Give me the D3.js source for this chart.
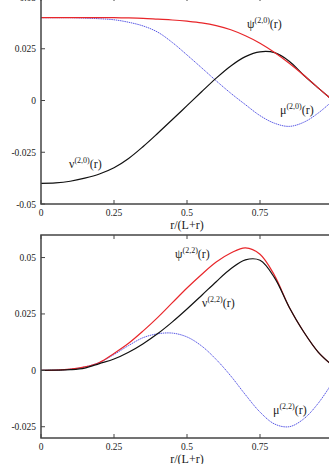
<!DOCTYPE html>
<html lang="en">
<head>
<meta charset="utf-8">
<title>psi mu nu</title>
<script src="https://cdn.jsdelivr.net/npm/d3@7"></script>
<style>
  body { margin: 0; background: #fff; }
  svg { display: block; overflow: hidden; }
  text { font-family: "Liberation Serif", "Times New Roman", "DejaVu Serif", serif; fill: #222; }
</style>
</head>
<body>
<script>
// r/(L+r) sample points
var rVals = [0, 0.05, 0.1, 0.15, 0.2, 0.25, 0.3, 0.35, 0.4, 0.45, 0.5,
             0.55, 0.6, 0.65, 0.7, 0.75, 0.8, 0.85, 0.9, 0.95, 1.0];

// top panel, l = 0
var psi20 = [0.040, 0.040, 0.040, 0.040, 0.040, 0.040, 0.0399, 0.0397, 0.0393, 0.0389, 0.0383,
             0.0375, 0.0362, 0.0342, 0.0313, 0.0277, 0.0232, 0.0180, 0.0122, 0.0060, 0.0];
var mu20  = [0.040, 0.040, 0.040, 0.0398, 0.0395, 0.039, 0.0378, 0.036, 0.033, 0.028, 0.022,
             0.0158, 0.0095, 0.0035, -0.002, -0.0073, -0.011, -0.0125, -0.0105, -0.006, 0.0];
var nu20  = [-0.040, -0.0398, -0.039, -0.0375, -0.0355, -0.0325, -0.028, -0.0222, -0.0158, -0.0092, -0.0025,
             0.0042, 0.0108, 0.0167, 0.0212, 0.0235, 0.0231, 0.0190, 0.0122, 0.0060, 0.0];

// bottom panel, l = 2
var psi22 = [0, 0.0001, 0.0005, 0.0015, 0.0035, 0.0075, 0.012, 0.0175, 0.0235, 0.030, 0.0365,
             0.0425, 0.048, 0.052, 0.0543, 0.0515, 0.042, 0.028, 0.017, 0.008, 0.002];
var mu22  = [0, 0.0001, 0.0005, 0.0015, 0.0035, 0.007, 0.011, 0.0145, 0.0162, 0.0165, 0.0148,
             0.0108, 0.0048, -0.0025, -0.0108, -0.0185, -0.0238, -0.025, -0.0215, -0.0145, -0.005];
var nu22  = [0, 0.0001, 0.0003, 0.001, 0.003, 0.005, 0.008, 0.0118, 0.0163, 0.0215, 0.0272,
             0.0332, 0.0393, 0.045, 0.049, 0.0488, 0.041, 0.028, 0.017, 0.008, 0.002];

var xTicks = [0, 0.25, 0.5, 0.75, 1];
var xTickLabels = ["0", "0.25", "0.5", "0.75", ""];
var yTicksTop = [-0.05, -0.025, 0, 0.025, 0.05];
var yTicksBot = [-0.025, 0, 0.025, 0.05];

var W = 329, H = 464;
var svg = d3.select("body").append("svg").attr("width", W).attr("height", H);

var x = d3.scaleLinear().domain([0, 1]).range([41, 333]);

function fmt(d) { return d === 0 ? "0" : String(d); }

function panel(top, bottom, domain, yTicks, series, labels) {
  var y = d3.scaleLinear().domain(domain).range([bottom, top]);
  var g = svg.append("g");

  // curves
  var line = d3.line()
    .x(function(d) { return x(d[0]); })
    .y(function(d) { return y(d[1]); })
    .curve(d3.curveCatmullRom.alpha(0.5));
  series.forEach(function(s) {
    g.append("path")
      .datum(rVals.map(function(r, i) { return [r, s.v[i]]; }))
      .attr("d", line)
      .attr("fill", "none")
      .attr("stroke", s.color)
      .attr("stroke-width", s.w)
      .attr("stroke-dasharray", s.dash || null);
  });

  // frame
  g.append("rect")
    .attr("x", x(0)).attr("y", top)
    .attr("width", x(1) - x(0)).attr("height", bottom - top)
    .attr("fill", "none").attr("stroke", "#444").attr("stroke-width", 1.5);

  // ticks, pointing inwards
  var tl = 4;
  g.selectAll(".xt").data(xTicks).enter().append("path")
    .attr("d", function(d) {
      return "M" + x(d) + "," + bottom + "v" + (-tl) + "M" + x(d) + "," + top + "v" + tl;
    })
    .attr("stroke", "#444").attr("stroke-width", 1);
  g.selectAll(".yt").data(yTicks).enter().append("path")
    .attr("d", function(d) { return "M" + x(0) + "," + y(d) + "h" + tl; })
    .attr("stroke", "#444").attr("stroke-width", 1);

  // tick labels
  g.selectAll(".xl").data(xTicks).enter().append("text")
    .attr("x", function(d) { return x(d); })
    .attr("y", bottom + 11.5)
    .attr("text-anchor", "middle")
    .attr("font-size", "9.5px")
    .text(function(d, i) { return xTickLabels[i]; });
  g.selectAll(".yl").data(yTicks).enter().append("text")
    .attr("x", 36)
    .attr("y", function(d) { return y(d) + 3.5; })
    .attr("text-anchor", "end")
    .attr("font-size", "9.5px")
    .text(function(d) { return fmt(d); });

  // axis title
  g.append("text")
    .attr("x", 187).attr("y", bottom + 24.5)
    .attr("text-anchor", "middle")
    .attr("font-size", "12px")
    .text("r/(L+r)");

  // curve labels
  labels.forEach(function(l) {
    var t = g.append("text").attr("x", l.x).attr("y", l.y).attr("font-size", "12px");
    t.append("tspan").text(l.sym);
    t.append("tspan").attr("dy", -5).attr("font-size", "8px").text(l.sup);
    t.append("tspan").attr("dy", 5).text("(r)");
  });
}

panel(-3, 204, [-0.05, 0.05], yTicksTop, [
  { v: mu20,  color: "#5a5ae6", w: 1, dash: "1.5,0.7" },
  { v: nu20,  color: "#111", w: 1.2 },
  { v: psi20, color: "#e8262a", w: 1.2 }
], [
  { x: 247, y: 28, sym: "\u03c8", sup: "(2,0)" },
  { x: 280, y: 114, sym: "\u03bc", sup: "(2,0)" },
  { x: 69, y: 168, sym: "\u03bd", sup: "(2,0)" }
]);

panel(235, 438, [-0.03, 0.06], yTicksBot, [
  { v: mu22,  color: "#5a5ae6", w: 1, dash: "1.5,0.7" },
  { v: psi22, color: "#e8262a", w: 1.2 },
  { v: nu22,  color: "#111", w: 1.2 }
], [
  { x: 175, y: 258, sym: "\u03c8", sup: "(2,2)" },
  { x: 202, y: 307, sym: "\u03bd", sup: "(2,2)" },
  { x: 273, y: 414, sym: "\u03bc", sup: "(2,2)" }
]);
</script>
</body>
</html>
